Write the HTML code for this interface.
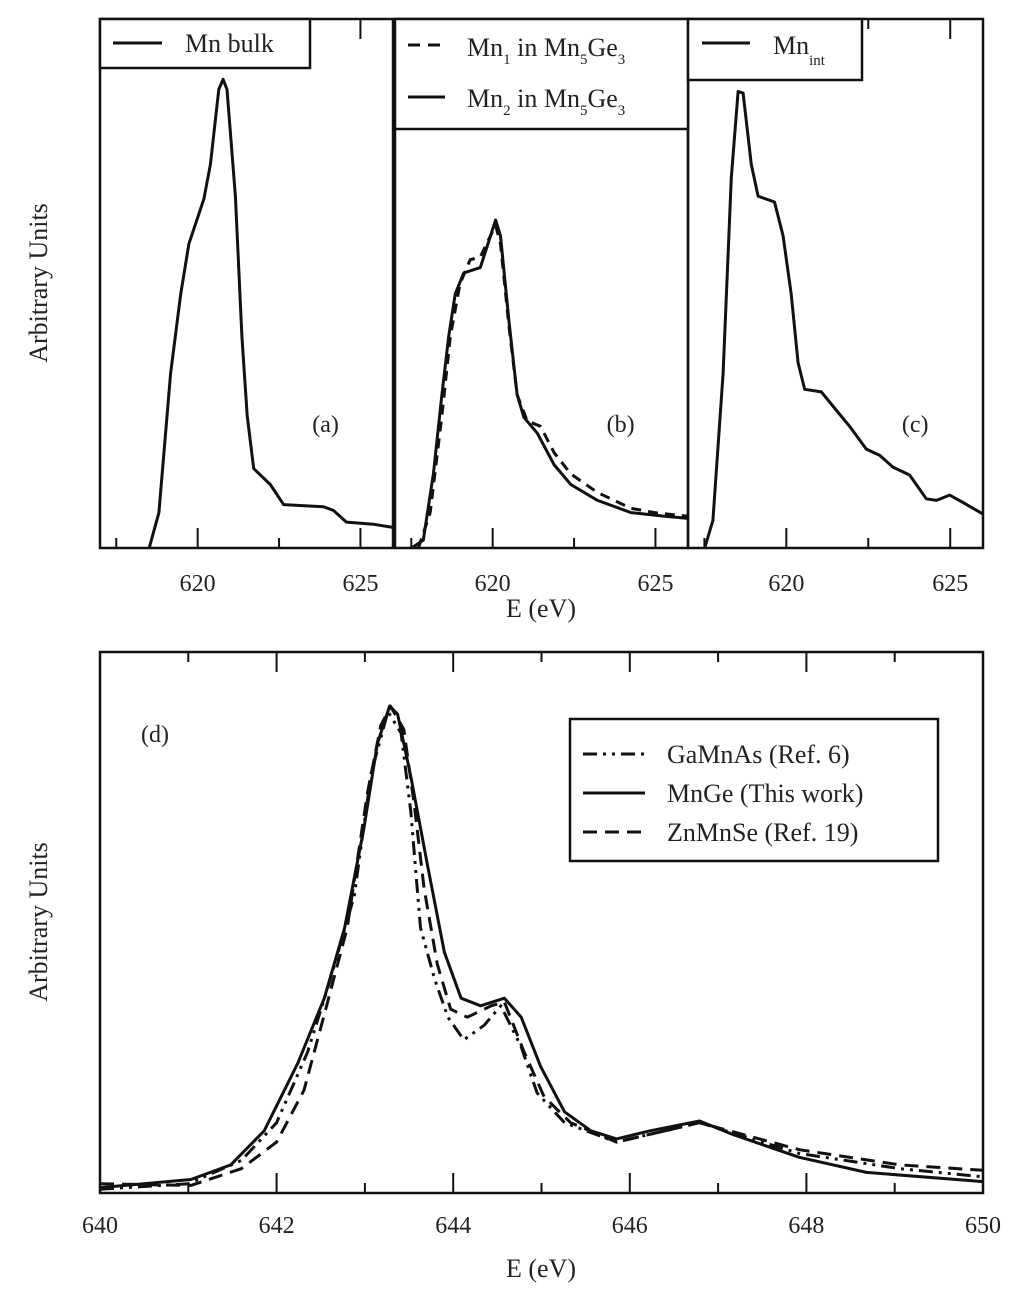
<!DOCTYPE html>
<html><head><meta charset="utf-8">
<style>
html,body{margin:0;padding:0;background:#fff;}
svg{display:block;font-family:"Liberation Serif",serif;}
</style></head>
<body>
<svg id="chart" width="1024" height="1303" viewBox="0 0 1024 1303" xmlns="http://www.w3.org/2000/svg">
<g id="top"></g>
<g id="bottom"></g>
</svg>
<script>
// ---- data ----
const topXTicks = [620, 625];
const bottomXTicks = [640, 642, 644, 646, 648, 650];
const aE = [618.51,618.81,619.17,619.48,619.73,620.19,620.39,620.65,620.78,620.9,621.16,621.36,621.52,621.72,622.23,622.64,623.86,624.17,624.57,625.39,626];
const aV = [0,0.067,0.33,0.48,0.575,0.66,0.725,0.867,0.886,0.867,0.665,0.40,0.25,0.15,0.12,0.082,0.078,0.071,0.049,0.045,0.039];
const b2E = [617.51,617.87,618.18,618.44,618.65,618.85,619.11,619.62,619.83,620.09,620.24,620.5,620.75,620.96,621.37,621.89,622.4,623.22,624.25,625.28,626];
const b2V = [0,0.015,0.14,0.29,0.40,0.48,0.52,0.53,0.57,0.62,0.59,0.43,0.29,0.247,0.217,0.157,0.12,0.09,0.067,0.06,0.056];
const b1E = [617.72,618.08,618.44,618.7,619.0,619.31,619.62,619.93,620.09,620.24,620.5,620.75,621.06,621.47,621.89,622.4,623.22,624.25,624.97,626];
const b1V = [0,0.067,0.25,0.40,0.50,0.545,0.55,0.59,0.61,0.575,0.42,0.29,0.24,0.23,0.18,0.14,0.105,0.075,0.067,0.06];
const cE = [617.51,617.76,618.07,618.32,618.53,618.68,618.93,619.14,619.64,619.9,620.15,620.36,620.56,621.07,621.53,621.93,622.44,622.85,623.25,623.76,624.27,624.58,624.98,625.39,626];
const cV = [0,0.052,0.33,0.70,0.863,0.86,0.725,0.665,0.654,0.59,0.48,0.35,0.30,0.295,0.26,0.23,0.187,0.175,0.153,0.138,0.093,0.09,0.10,0.086,0.064];
const mgE = [640,641.03,641.48,641.86,642.24,642.54,642.77,642.99,643.14,643.28,643.37,643.52,643.71,643.9,644.09,644.31,644.58,644.77,644.99,645.26,645.56,645.85,646.23,646.79,647.17,647.92,648.68,650];
const mgV = [0.01,0.025,0.052,0.115,0.24,0.36,0.49,0.675,0.83,0.90,0.885,0.77,0.605,0.445,0.36,0.346,0.36,0.325,0.234,0.15,0.115,0.10,0.115,0.133,0.108,0.066,0.038,0.021];
const gaE = [640,641,641.6,642,642.35,642.6,642.88,643.07,643.26,643.41,643.52,643.63,643.79,643.94,644.12,644.35,644.54,644.77,644.95,645.26,645.85,646.79,647.92,649.06,650];
const gaV = [0.007,0.017,0.06,0.13,0.26,0.39,0.55,0.775,0.89,0.85,0.705,0.49,0.395,0.325,0.283,0.31,0.346,0.27,0.185,0.13,0.094,0.13,0.073,0.045,0.03];
const znE = [640,641.03,641.6,642,642.31,642.54,642.8,643.03,643.18,643.29,643.44,643.56,643.67,643.82,643.97,644.16,644.43,644.58,644.8,645.03,645.33,645.85,646.79,647.92,649.06,650];
const znV = [0.017,0.014,0.045,0.094,0.19,0.33,0.49,0.74,0.864,0.9,0.857,0.717,0.563,0.423,0.34,0.325,0.346,0.353,0.262,0.178,0.13,0.094,0.13,0.08,0.052,0.042];

const NS = "http://www.w3.org/2000/svg";
function mk(tag, attrs, parent, text){
  const e = document.createElementNS(NS, tag);
  for (const k in attrs) e.setAttribute(k, attrs[k]);
  if (text !== undefined) e.textContent = text;
  parent.appendChild(e); return e;
}
function pathFrom(E, V, sx, sy){
  return E.map((e,i)=>(i?'L':'M')+sx(e).toFixed(1)+','+sy(V[i]).toFixed(1)).join(' ');
}

const topG = document.getElementById('top');
const botG = document.getElementById('bottom');
const T0 = 19, T1 = 548;
const panels = [
  {x0:100, x1:393, label:'(a)'},
  {x0:395, x1:688, label:'(b)'},
  {x0:688, x1:983, label:'(c)'}
];
const sy = v => T1 - v*(T1-T0);
panels.forEach((p,pi)=>{
  const sx = e => p.x0 + (e-617)/9*(p.x1-p.x0);
  const g = mk('g', {}, topG);
  
  
  const fr = mk('rect', {x:p.x0, y:T0, width:p.x1-p.x0, height:T1-T0, fill:'none', stroke:'#111', 'stroke-width':2.5}, g);
  
  
  for (let e=617.5; e<=626; e+=2.5){
    const major = topXTicks.includes(e);
    const len = major ? 20 : 10;
    mk('line', {x1:sx(e), x2:sx(e), y1:T1, y2:T1-len, stroke:'#111','stroke-width':2}, g);
    mk('line', {x1:sx(e), x2:sx(e), y1:T0, y2:T0+len, stroke:'#111','stroke-width':2}, g);
  }
  topXTicks.forEach(t=>{
    const tl = mk('text', {x:sx(t), y:591, 'font-size':24, 'text-anchor':'middle', fill:'#222'}, g, String(t));
    
    
  });
  const pl = mk('text', {x:p.x0+0.77*(p.x1-p.x0), y:432, 'font-size':24, 'text-anchor':'middle', fill:'#222'}, g, p.label);
  
  
  const series = pi===0 ? [[aE,aV,'']] : pi===1 ? [[b1E,b1V,'10,7'],[b2E,b2V,'']] : [[cE,cV,'']];
  series.forEach(s=>{
    const ln = mk('path', {d:pathFrom(s[0],s[1],sx,sy), fill:'none', stroke:'#111', 'stroke-width':3, 'stroke-linejoin':'round', 'stroke-dasharray':s[2]||'none'}, g);
    
    
  });
});
// top legends
(function(){
  const lg = mk('g', {}, topG);
  
  
  mk('rect', {x:100, y:19, width:210, height:49, fill:'#fff', stroke:'#111','stroke-width':2.5}, lg);
  mk('line', {x1:113, x2:162, y1:43, y2:43, stroke:'#111','stroke-width':3}, lg);
  mk('text', {x:185, y:52, 'font-size':26, fill:'#222'}, lg, 'Mn bulk');

  const lb = mk('g', {}, topG);
  
  
  mk('rect', {x:395, y:19, width:293, height:110, fill:'#fff', stroke:'#111','stroke-width':2.5}, lb);
  mk('line', {x1:408, x2:445, y1:45, y2:45, stroke:'#111','stroke-width':3,'stroke-dasharray':'12,8'}, lb);
  mk('line', {x1:408, x2:445, y1:97, y2:97, stroke:'#111','stroke-width':3}, lb);
  const t1 = mk('text', {x:467, y:56, 'font-size':26, fill:'#222'}, lb);
  t1.innerHTML = 'Mn<tspan font-size="15" dy="8">1</tspan><tspan dy="-8"> in Mn</tspan><tspan font-size="15" dy="8">5</tspan><tspan dy="-8">Ge</tspan><tspan font-size="15" dy="8">3</tspan>';
  const t2 = mk('text', {x:467, y:107, 'font-size':26, fill:'#222'}, lb);
  t2.innerHTML = 'Mn<tspan font-size="15" dy="8">2</tspan><tspan dy="-8"> in Mn</tspan><tspan font-size="15" dy="8">5</tspan><tspan dy="-8">Ge</tspan><tspan font-size="15" dy="8">3</tspan>';

  const lc = mk('g', {}, topG);
  
  
  mk('rect', {x:688, y:19, width:174, height:61, fill:'#fff', stroke:'#111','stroke-width':2.5}, lc);
  mk('line', {x1:702, x2:750, y1:43, y2:43, stroke:'#111','stroke-width':3}, lc);
  const t3 = mk('text', {x:773, y:54, 'font-size':26, fill:'#222'}, lc);
  t3.innerHTML = 'Mn<tspan font-size="15" dy="11">int</tspan>';
})();
const yt1 = mk('text', {x:0, y:0, 'font-size':26, 'text-anchor':'middle', fill:'#222', transform:'translate(47,283) rotate(-90)'}, topG, 'Arbitrary Units');


const xt1 = mk('text', {x:541, y:617, 'font-size':26, 'text-anchor':'middle', fill:'#222'}, topG, 'E (eV)');



// bottom panel
const B0 = 652, B1 = 1193, BX0 = 100, BX1 = 983;
const bsx = e => BX0 + (e-640)/10*(BX1-BX0);
const bsy = v => B1 - v*(B1-B0);
const bf = mk('rect', {x:BX0, y:B0, width:BX1-BX0, height:B1-B0, fill:'none', stroke:'#111','stroke-width':2.5}, botG);


for (let e=641; e<650; e++){
  const major = e%2===0;
  const len = major ? 20 : 10;
  mk('line', {x1:bsx(e), x2:bsx(e), y1:B1, y2:B1-len, stroke:'#111','stroke-width':2}, botG);
  mk('line', {x1:bsx(e), x2:bsx(e), y1:B0, y2:B0+len, stroke:'#111','stroke-width':2}, botG);
}
bottomXTicks.forEach(t=>{
  const tl = mk('text', {x:bsx(t), y:1233, 'font-size':24, 'text-anchor':'middle', fill:'#222'}, botG, String(t));
  
  
});
[[gaE,gaV,'14,6,3,6,3,6','gamnas-line'],[mgE,mgV,'none','mnge-line'],[znE,znV,'14,8','znmnse-line']].forEach(s=>{
  const ln = mk('path', {d:pathFrom(s[0],s[1],bsx,bsy), fill:'none', stroke:'#111','stroke-width':3,'stroke-linejoin':'round','stroke-dasharray':s[2]}, botG);
  
  
});
const dl = mk('text', {x:155, y:742, 'font-size':24, 'text-anchor':'middle', fill:'#222'}, botG, '(d)');


(function(){
  const lg = mk('g', {}, botG);
  
  
  mk('rect', {x:570, y:719, width:368, height:142, fill:'#fff', stroke:'#111','stroke-width':2.5}, lg);
  const rows = [['GaMnAs (Ref. 6)','14,6,3,6,3,6',754],['MnGe (This work)','none',793],['ZnMnSe (Ref. 19)','14,8',832]];
  rows.forEach(r=>{
    mk('line', {x1:583, x2:645, y1:r[2], y2:r[2], stroke:'#111','stroke-width':3,'stroke-dasharray':r[1]}, lg);
    mk('text', {x:667, y:r[2]+9, 'font-size':26, fill:'#222'}, lg, r[0]);
  });
})();
const yt2 = mk('text', {x:0, y:0, 'font-size':26, 'text-anchor':'middle', fill:'#222', transform:'translate(47,922) rotate(-90)'}, botG, 'Arbitrary Units');


const xt2 = mk('text', {x:541, y:1277, 'font-size':26, 'text-anchor':'middle', fill:'#222'}, botG, 'E (eV)');


</script>
</body></html>
